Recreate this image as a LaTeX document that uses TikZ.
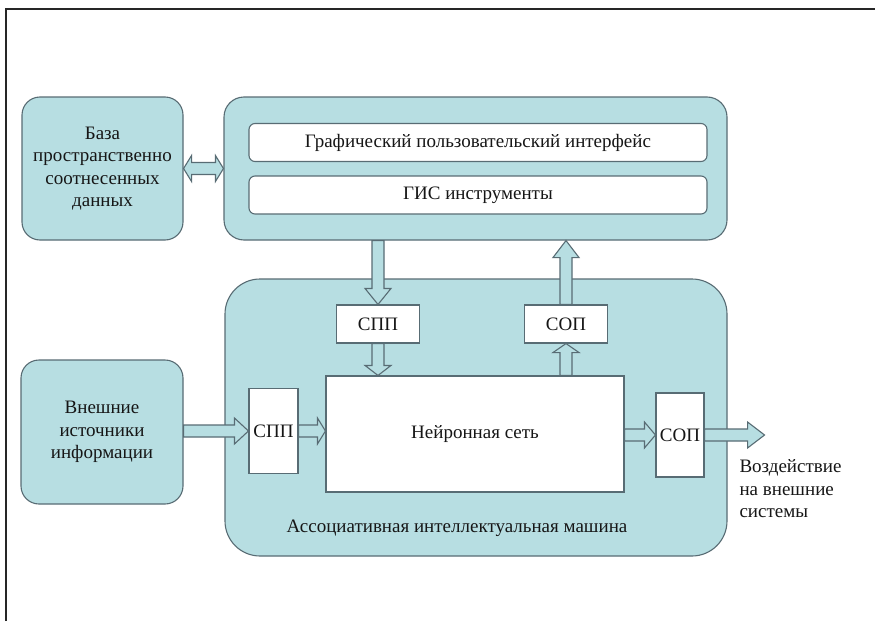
\documentclass[tikz,border=0pt]{standalone}
\usepackage{fontspec}
\setmainfont{Liberation Serif}
\usetikzlibrary{calc,positioning}

\definecolor{boxfill}{RGB}{183,222,226}
\definecolor{boxline}{RGB}{88,108,116}
\definecolor{ink}{RGB}{22,22,22}

\newcommand{\arrowshaft}{6pt}
\newcommand{\arrowwing}{13pt}
\newcommand{\arrowhead}{12pt}

\tikzset{
    headlen/.code={\renewcommand{\arrowhead}{#1}},
    blockarrow/.style={draw=boxline, fill=boxfill, line width=1.1pt,
        to path={
            ($(\tikztostart)!\arrowshaft!90:(\tikztotarget)$)
            -- ($(\tikztotarget)!\arrowhead!(\tikztostart)!\arrowshaft!-90:(\tikztostart)$)
            -- ($(\tikztotarget)!\arrowhead!(\tikztostart)!\arrowwing!-90:(\tikztostart)$)
            -- (\tikztotarget)
            -- ($(\tikztotarget)!\arrowhead!(\tikztostart)!\arrowwing!90:(\tikztostart)$)
            -- ($(\tikztotarget)!\arrowhead!(\tikztostart)!\arrowshaft!90:(\tikztostart)$)
            -- ($(\tikztostart)!\arrowshaft!-90:(\tikztotarget)$)
            -- cycle
        }},
    twowayarrow/.style={draw=boxline, fill=boxfill, line width=1.1pt,
        to path={
            ($(\tikztostart)!\arrowhead!(\tikztotarget)!\arrowshaft!90:(\tikztotarget)$)
            -- ($(\tikztotarget)!\arrowhead!(\tikztostart)!\arrowshaft!-90:(\tikztostart)$)
            -- ($(\tikztotarget)!\arrowhead!(\tikztostart)!\arrowwing!-90:(\tikztostart)$)
            -- (\tikztotarget)
            -- ($(\tikztotarget)!\arrowhead!(\tikztostart)!\arrowwing!90:(\tikztostart)$)
            -- ($(\tikztotarget)!\arrowhead!(\tikztostart)!\arrowshaft!90:(\tikztostart)$)
            -- ($(\tikztostart)!\arrowhead!(\tikztotarget)!\arrowshaft!-90:(\tikztotarget)$)
            -- ($(\tikztostart)!\arrowhead!(\tikztotarget)!\arrowwing!-90:(\tikztotarget)$)
            -- (\tikztostart)
            -- ($(\tikztostart)!\arrowhead!(\tikztotarget)!\arrowwing!90:(\tikztotarget)$)
            -- cycle
        }}
}

\begin{document}
\begin{tikzpicture}[x=1pt, y=-1pt,
        every node/.style={text=ink, font=\fontsize{19}{22.5}\selectfont},
        block/.style={draw=boxline, fill=boxfill, line width=1.1pt, rounded corners=18pt},
        bar/.style={draw=boxline, fill=white, line width=1.1pt, rounded corners=6pt,
            minimum width=458pt, minimum height=38pt},
        unit/.style={draw=boxline, fill=white, line width=1.1pt}]
    \useasboundingbox[fill=white] (0,0) rectangle (875,621);
    \draw[line width=1.5pt, black!85] (6,621) -- (6,9) -- (875,9);

    % left column
    \node[block, minimum width=161pt, minimum height=143pt, align=center] (db) at (102.5,168.5)
        {База\\пространственно\\соотнесенных\\данных};
    \node[block, minimum width=162pt, minimum height=144pt, align=center] (src) at (102,432)
        {Внешние\\источники\\информации};

    % interface block
    \node[block, rounded corners=20pt, minimum width=503pt, minimum height=143pt] (gui) at (475.5,168.5) {};
    \node[bar] (guibar) at (478,142.5) {Графический пользовательский интерфейс};
    \node[bar] (gisbar) at (478,195) {ГИС инструменты};

    % associative machine
    \node[block, rounded corners=35pt, minimum width=502pt, minimum height=277pt] (machine) at (476,417.5) {};
    \node (machinelbl) at (457,528) {Ассоциативная интеллектуальная машина};
    \node[unit, minimum width=83pt, minimum height=38pt] (sppT) at (378,324) {СПП};
    \node[unit, minimum width=83pt, minimum height=38pt] (sopT) at (566,324) {СОП};
    \node[unit, minimum width=298pt, minimum height=116pt] (nn) at (475,434) {Нейронная сеть};
    \node[unit, minimum width=49pt, minimum height=85pt, inner sep=0pt] (sppL) at (273.5,431) {СПП};
    \node[unit, minimum width=48pt, minimum height=84pt, inner sep=0pt] (sopR) at (680,435) {СОП};
    \node[anchor=west, align=left] (effect) at (736,489)
        {Воздействие\\на внешние\\системы};

    \coordinate (guiOut) at (gui.south -| sppT.north);
    \coordinate (guiIn) at (gui.south -| sopT.north);
    \coordinate (nnTop) at (nn.north -| sppT.south);
    \coordinate (nnUp) at (nn.north -| sopT.south);
    \coordinate (srcOut) at (src.east |- sppL.west);
    \coordinate (nnLeft) at (nn.west |- sppL.east);
    \coordinate (nnRight) at (nn.east |- sopR.west);
    \coordinate (effectTip) at ($(sopR.east)+(60,0)$);

    \draw[twowayarrow, headlen=8pt] (db.east) to (gui.west |- db.east);
    \draw[blockarrow, headlen=16pt] (guiOut) to (sppT.north);
    \draw[blockarrow, headlen=10pt] (sppT.south) to (nnTop);
    \draw[blockarrow, headlen=9pt] (nnUp) to (sopT.south);
    \draw[blockarrow, headlen=17pt] (sopT.north) to (guiIn);
    \draw[blockarrow, headlen=14pt] (srcOut) to (sppL.west);
    \draw[blockarrow, headlen=8pt] (sppL.east) to (nnLeft);
    \draw[blockarrow, headlen=11pt] (nnRight) to (sopR.west);
    \draw[blockarrow, headlen=17pt] (sopR.east) to (effectTip);
\end{tikzpicture}
\end{document}
